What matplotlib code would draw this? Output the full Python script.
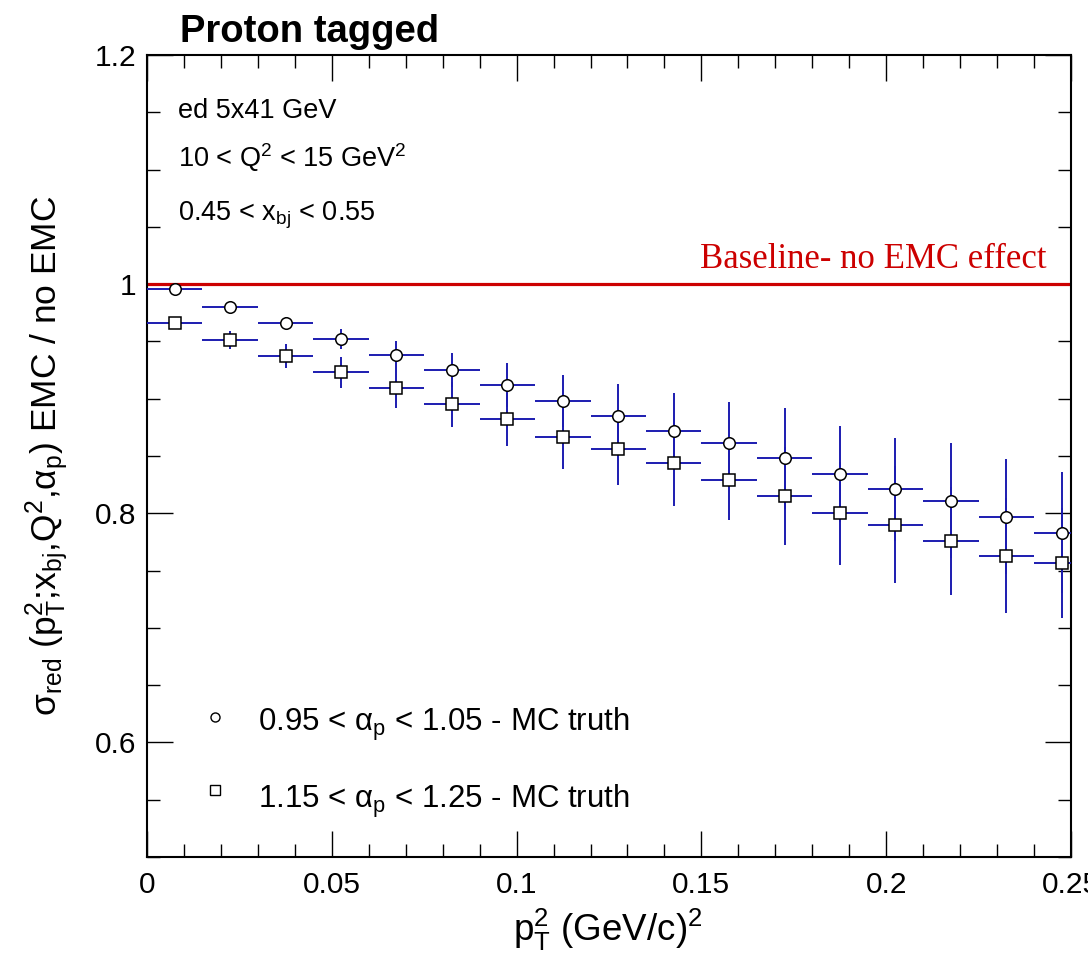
import matplotlib
matplotlib.use("Agg")
import matplotlib.pyplot as plt
from matplotlib.ticker import MultipleLocator, FuncFormatter

plt.rcParams['font.family'] = ['Liberation Sans', 'DejaVu Sans']
plt.rcParams['mathtext.fontset'] = 'custom'
plt.rcParams['mathtext.rm'] = 'Liberation Sans'
plt.rcParams['mathtext.it'] = 'Liberation Sans:italic'
plt.rcParams['mathtext.bf'] = 'Liberation Sans:bold'

# bin centres in pT^2 (GeV/c)^2, bin half width 0.0075
pt2 = [0.0075, 0.0225, 0.0375, 0.0525, 0.0675, 0.0825, 0.0975, 0.1125, 0.1275,
       0.1425, 0.1575, 0.1725, 0.1875, 0.2025, 0.2175, 0.2325, 0.2475]
half_bin = 0.0075

# 0.95 < alpha_p < 1.05
alpha1_y = [0.996, 0.980, 0.966, 0.952, 0.938, 0.925, 0.912, 0.898, 0.885,
            0.872, 0.861, 0.848, 0.834, 0.821, 0.811, 0.797, 0.783]
alpha1_err = [0.002, 0.004, 0.005, 0.0086, 0.012, 0.015, 0.019, 0.023, 0.028,
              0.033, 0.036, 0.044, 0.042, 0.045, 0.050, 0.050, 0.053]

# 1.15 < alpha_p < 1.25
alpha2_y = [0.966, 0.951, 0.937, 0.923, 0.909, 0.895, 0.882, 0.867, 0.856,
            0.844, 0.829, 0.815, 0.800, 0.790, 0.776, 0.763, 0.757]
alpha2_err = [0.002, 0.0077, 0.0105, 0.0135, 0.017, 0.020, 0.023, 0.028, 0.031,
              0.0376, 0.035, 0.043, 0.045, 0.051, 0.047, 0.050, 0.048]

blue = '#1c1cb0'
red = '#cc0000'

fig = plt.figure(figsize=(10.88, 9.6), dpi=100)
ax = fig.add_axes([147/1088, 1 - 857/960, 924/1088, 802/960])

ax.axhline(1.0, color=red, lw=2.3, zorder=2)
ax.text(0.2435, 1.014, 'Baseline- no EMC effect', color=red, ha='right', va='baseline',
        fontsize=25, family=['Liberation Serif', 'DejaVu Serif'])

for y, e, m in [(alpha1_y, alpha1_err, 'o'), (alpha2_y, alpha2_err, 's')]:
    ax.errorbar(pt2, y, xerr=half_bin, yerr=e, fmt='none', ecolor=blue,
                elinewidth=1.4, capsize=0, zorder=3)
    ax.plot(pt2, y, ls='none', marker=m, ms=8.3, mfc='white', mec='black',
            mew=1.1, zorder=4)

ax.set_xlim(0, 0.25)
ax.set_ylim(0.5, 1.2)
ax.xaxis.set_major_locator(MultipleLocator(0.05))
ax.xaxis.set_minor_locator(MultipleLocator(0.01))
ax.yaxis.set_major_locator(MultipleLocator(0.2))
ax.yaxis.set_minor_locator(MultipleLocator(0.05))
fmt = FuncFormatter(lambda v, p: '%g' % round(v, 4))
ax.xaxis.set_major_formatter(fmt)
ax.yaxis.set_major_formatter(fmt)
ax.tick_params(which='both', direction='in', top=True, right=True, labelsize=21.5)
ax.tick_params(which='major', length=19, width=1.0)
ax.tick_params(which='minor', length=9.5, width=1.0)
ax.tick_params(axis='x', pad=10)
ax.tick_params(axis='y', pad=8)
for s in ax.spines.values():
    s.set_linewidth(1.5)

# texts
fig.text(180/1088, 1 - 42/960, 'Proton tagged', fontsize=27.5, weight='bold', va='baseline')
ax.text(0.0335, 0.9214, 'ed 5x41 GeV', transform=ax.transAxes, fontsize=19.5, va='baseline')
ax.text(0.0335, 0.860, r'10 < Q$^{2}$ < 15 GeV$^{2}$', transform=ax.transAxes,
        fontsize=19.5, va='baseline')
ax.text(0.0335, 0.794, r'0.45 < x$_{\mathrm{bj}}$ < 0.55', transform=ax.transAxes,
        fontsize=19.5, va='baseline')

# legend
ax.plot([0.0736], [0.1746], transform=ax.transAxes, marker='o', ms=6.5, mfc='white',
        mec='black', mew=1.0, ls='none', clip_on=False)
ax.plot([0.0736], [0.0835], transform=ax.transAxes, marker='s', ms=6.5, mfc='white',
        mec='black', mew=1.0, ls='none', clip_on=False)
ax.text(0.120, 0.157, r'0.95 < α$_{\mathrm{p}}$ < 1.05 - MC truth', transform=ax.transAxes,
        fontsize=22.5, va='baseline')
ax.text(0.120, 0.061, r'1.15 < α$_{\mathrm{p}}$ < 1.25 - MC truth', transform=ax.transAxes,
        fontsize=22.5, va='baseline')

# axis titles
fig.text(608/1088, 1 - 930/960, r'p$_{\mathrm{T}}^{2}$ (GeV/c)$^{2}$', fontsize=26.5,
         ha='center', va='center')
fig.text(47/1088, 1 - 456/960,
         r'σ$_{\mathrm{red}}$ (p$_{\mathrm{T}}^{2}$;x$_{\mathrm{bj}}$,Q$^{2}$,α$_{\mathrm{p}}$) EMC / no EMC',
         fontsize=25.5, rotation=90, ha='center', va='center')

fig.savefig('out.png', dpi=100)
